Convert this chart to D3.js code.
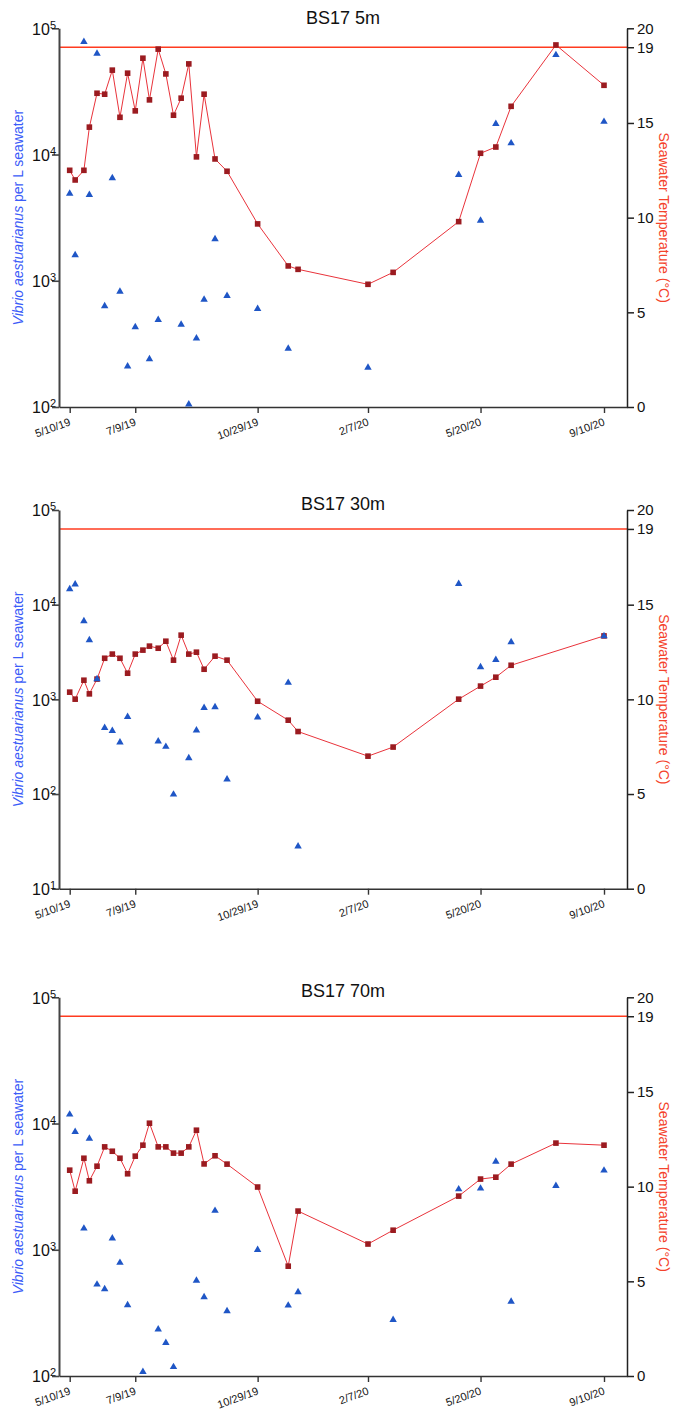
<!DOCTYPE html>
<html>
<head>
<meta charset="utf-8">
<script src="https://cdn.jsdelivr.net/npm/d3@7"></script>
<style>
  body { margin: 0; background: #fff; }
  svg { display: block; }
  text { font-family: "Liberation Sans", Arial, Helvetica, sans-serif; }
</style>
</head>
<body>
<svg id="chart" width="673" height="1410"></svg>
<script>
// Sampling dates shared by all three depths (M/D/YY)
const sampleDates = [
  "5/10/19","5/15/19","5/23/19","5/28/19","6/4/19","6/11/19","6/18/19","6/25/19",
  "7/2/19","7/9/19","7/16/19","7/22/19","7/30/19","8/6/19","8/13/19","8/20/19",
  "8/27/19","9/3/19","9/10/19","9/20/19","10/1/19","10/29/19","11/26/19","12/5/19",
  "2/7/20","3/1/20","4/30/20","5/20/20","6/3/20","6/17/20","7/28/20","9/10/20"
];

// Station / depth titles
const panelTitles = ["BS17 5m", "BS17 30m", "BS17 70m"];

// Vibrio aestuarianus counts per L seawater (null = not quantified)
const vibrio5m = [
  4900, 1600, 78000, 4800, 63000, 630, 6500, 820,
  210, 430, null, 240, 490, null, null, 450,
  105, 350, 710, 2140, 760, 600, 290, null,
  205, null, 6900, 3000, 17500, 12300, 61500, 18200
];
const vibrio30m = [
  14600, 16400, 6700, 4230, 1640, 500, 466, 352,
  655, null, null, null, 360, 316, 99, null,
  240, 471, 815, 830, 143, 646, 1500, 28,
  null, null, 16600, 2190, 2620, 4030, null, 4660
];
const vibrio70m = [
  11800, 8600, 1475, 7600, 531, 489, 1230, 790,
  365, null, 108, null, 234, 183, 118, null,
  null, 571, 422, 2040, 327, 1000, 362, 463,
  null, 279, 3020, 3060, 5000, 388, 3210, 4250
];

// Seawater temperature (°C)
const temp5m = [
  12.50, 11.99, 12.50, 14.78, 16.57, 16.52, 17.79, 15.30,
  17.63, 15.64, 18.42, 16.22, 18.90, 17.59, 15.41, 16.31,
  18.12, 13.21, 16.52, 13.10, 12.45, 9.67, 7.45, 7.27,
  6.48, 7.11, 9.79, 13.40, 13.73, 15.88, 19.12, 16.99
];
const temp30m = [
  10.38, 10.01, 11.01, 10.29, 11.07, 12.17, 12.39, 12.17,
  11.38, 12.39, 12.60, 12.81, 12.70, 13.07, 12.07, 13.39,
  12.39, 12.49, 11.59, 12.28, 12.07, 9.90, 8.90, 8.30,
  7.00, 7.48, 10.01, 10.70, 11.17, 11.80, null, 13.35
];
const temp70m = [
  10.87, 9.76, 11.50, 10.31, 11.08, 12.10, 11.87, 11.50,
  10.68, 11.61, 12.19, 13.35, 12.10, 12.10, 11.77, 11.77,
  12.10, 12.98, 11.20, 11.63, 11.19, 9.98, 5.80, 8.71,
  6.97, 7.70, 9.50, 10.40, 10.50, 11.19, 12.30, 12.19
];

// Axis ticks
const dateTickLabels = ["5/10/19", "7/9/19", "10/29/19", "2/7/20", "5/20/20", "9/10/20"];
const tempTicks = [0, 5, 10, 15, 19, 20];
const thresholdTemp = 19;
const countDomains = [[1e2, 1e5], [1e1, 1e5], [1e2, 1e5]];

const vibrioSeries = [vibrio5m, vibrio30m, vibrio70m];
const tempSeries = [temp5m, temp30m, temp70m];

// ---- layout ----
const plotLeft = 59, plotRight = 627;
const panelTops = [28.3, 510, 997.3];
const panelHeight = 378.7;
const titleBaselines = [23.5, 510, 997];

const colors = {
  triangle: "#1f56c6",
  square: "#9b1b20",
  tempLine: "#e9333b",
  threshold: "#ff3b1f",
  leftLabel: "#3b5cf8",
  rightLabel: "#f4432c",
  axis: "#333"
};

const parseDate = d3.timeParse("%m/%d/%y");
const dates = sampleDates.map(parseDate);
const tickDates = dateTickLabels.map(parseDate);

// Time scale: the first and last labelled dates sit just inside the axis ends
const xBase = d3.scaleTime()
  .domain([tickDates[0], tickDates[tickDates.length - 1]])
  .range([69.7, 604]);
const x = d3.scaleTime()
  .domain([xBase.invert(plotLeft), xBase.invert(plotRight)])
  .range([plotLeft, plotRight]);

const svg = d3.select("#chart");

panelTitles.forEach((title, i) => {
  const top = panelTops[i], bottom = top + panelHeight;
  const g = svg.append("g");

  const yCount = d3.scaleLog().domain(countDomains[i]).range([bottom, top]);
  const yTemp = d3.scaleLinear().domain([0, 20]).range([bottom, top]);

  // Title
  g.append("text")
    .attr("x", (plotLeft + plotRight) / 2)
    .attr("y", titleBaselines[i])
    .attr("text-anchor", "middle")
    .attr("font-size", 18)
    .attr("fill", "#111")
    .text(title);

  // 19 °C reference line
  g.append("line")
    .attr("x1", plotLeft).attr("x2", plotRight)
    .attr("y1", yTemp(thresholdTemp)).attr("y2", yTemp(thresholdTemp))
    .attr("stroke", colors.threshold)
    .attr("stroke-width", 1.5);

  // Left (log) axis
  const decades = d3.range(Math.log10(countDomains[i][0]), Math.log10(countDomains[i][1]) + 1)
    .map(e => Math.pow(10, e));
  const leftAxis = g.append("g")
    .attr("transform", `translate(${plotLeft},0)`)
    .call(d3.axisLeft(yCount).tickValues(decades).tickSize(7).tickSizeOuter(0).tickFormat(""));
  leftAxis.select(".domain").attr("stroke", "#444").attr("stroke-width", 2);
  leftAxis.selectAll(".tick line").attr("stroke", "#444").attr("stroke-width", 1.6);
  leftAxis.selectAll(".tick").each(function (d) {
    const t = d3.select(this).append("text")
      .attr("x", -3)
      .attr("dy", "0.36em")
      .attr("text-anchor", "end")
      .attr("fill", "#111")
      .attr("font-size", 16);
    t.append("tspan").text("10");
    t.append("tspan")
      .attr("font-size", 11)
      .attr("dy", "-0.55em")
      .text(Math.round(Math.log10(d)));
  });

  // Right (temperature) axis
  const rightAxis = g.append("g")
    .attr("transform", `translate(${plotRight},0)`)
    .call(d3.axisRight(yTemp).tickValues(tempTicks).tickSize(7).tickSizeOuter(0).tickPadding(3));
  rightAxis.select(".domain").attr("stroke", "#222").attr("stroke-width", 1.5);
  rightAxis.selectAll(".tick line").attr("stroke", "#222").attr("stroke-width", 1.5);
  rightAxis.selectAll(".tick text")
    .attr("font-size", 15)
    .attr("fill", "#111")
    .attr("font-family", "'Liberation Sans', Arial, sans-serif");

  // Bottom (date) axis
  const bottomAxis = g.append("g")
    .attr("transform", `translate(0,${bottom})`)
    .call(d3.axisBottom(x).tickValues(tickDates).tickSize(6).tickSizeOuter(0)
      .tickFormat((d, k) => dateTickLabels[k]));
  bottomAxis.select(".domain").attr("stroke", colors.axis).attr("stroke-width", 1.6);
  bottomAxis.selectAll(".tick line").attr("stroke", colors.axis).attr("stroke-width", 1.4);
  bottomAxis.selectAll(".tick text")
    .attr("font-size", 11)
    .attr("fill", "#111")
    .attr("font-family", "'Liberation Sans', Arial, sans-serif")
    .attr("text-anchor", "end")
    .attr("y", 0).attr("dy", 0)
    .attr("transform", "translate(1,18) rotate(-20)");

  // Axis titles
  const midY = (top + bottom) / 2;
  const leftTitle = g.append("text")
    .attr("transform", `translate(18,${midY}) rotate(-90)`)
    .attr("text-anchor", "middle")
    .attr("dy", "0.35em")
    .attr("font-size", 14)
    .attr("fill", colors.leftLabel);
  leftTitle.append("tspan").attr("font-style", "italic").text("Vibrio aestuarianus");
  leftTitle.append("tspan").text(" per L seawater");

  g.append("text")
    .attr("transform", `translate(664,${midY}) rotate(90)`)
    .attr("text-anchor", "middle")
    .attr("dy", "0.35em")
    .attr("font-size", 14)
    .attr("fill", colors.rightLabel)
    .text("Seawater Temperature (°C)");

  // Temperature line and markers
  const tempPts = dates.map((d, k) => ({ date: d, v: tempSeries[i][k] })).filter(p => p.v != null);
  g.append("path")
    .datum(tempPts)
    .attr("fill", "none")
    .attr("stroke", colors.tempLine)
    .attr("stroke-width", 1)
    .attr("d", d3.line().x(p => x(p.date)).y(p => yTemp(p.v)));

  const sq = 5.6;
  g.selectAll("rect.temp")
    .data(tempPts)
    .join("rect")
    .attr("class", "temp")
    .attr("x", p => x(p.date) - sq / 2)
    .attr("y", p => yTemp(p.v) - sq / 2)
    .attr("width", sq).attr("height", sq)
    .attr("fill", colors.square);

  // Vibrio counts as triangles
  const countPts = dates.map((d, k) => ({ date: d, v: vibrioSeries[i][k] })).filter(p => p.v != null);
  const tri = d3.symbol().type(d3.symbolTriangle).size(24);
  g.selectAll("path.count")
    .data(countPts)
    .join("path")
    .attr("class", "count")
    .attr("transform", p => `translate(${x(p.date)},${yCount(p.v)})`)
    .attr("d", tri)
    .attr("fill", colors.triangle);
});
</script>
</body>
</html>
